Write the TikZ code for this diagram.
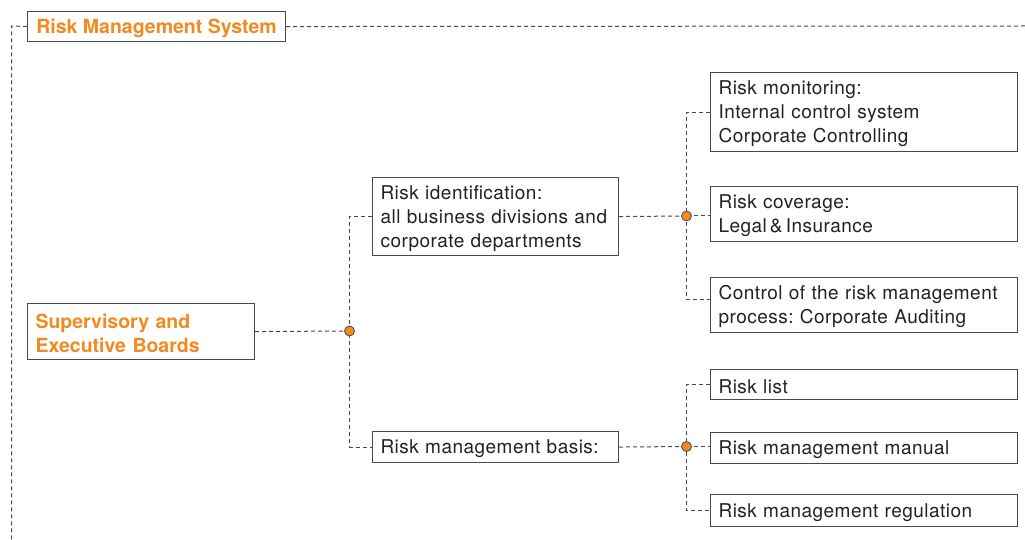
\documentclass[tikz,border=0pt]{standalone}
\usepackage{fontspec}
\setmainfont{TeX Gyre Heros}
\newfontfamily\regfont[LetterSpace=2.5]{TeX Gyre Heros}
\definecolor{rorange}{HTML}{F18A21}
\definecolor{rline}{HTML}{4A4A4A}
\definecolor{rtext}{HTML}{222222}
\frenchspacing
\begin{document}
\begin{tikzpicture}[x=1pt,y=-1pt,
  box/.style={draw=rline, line width=1.1pt, anchor=north west, inner xsep=8pt, inner ysep=0pt,
    align=left, text=rtext, font=\regfont\fontsize{19}{24}\selectfont,
    execute at begin node={\rule{0pt}{17.8pt}}},
  obox/.style={box, text=rorange, font=\fontsize{19.5}{24}\selectfont\bfseries},
  dl/.style={draw=rline, dash pattern=on 4pt off 3pt, line width=1pt},
  dot/.style={circle, fill=rorange, draw=rline, line width=0.8pt, inner sep=0pt, minimum size=10pt}]
\useasboundingbox (0,0) rectangle (1025,540);
\fill[white] (0,0) rectangle (1025,540);
% boxes
\node[obox, inner xsep=0pt, minimum width=258, minimum height=30] (title) at (27,11) {Risk Management System};
\node[obox, text width=211, minimum height=56] (sup) at (27,303) {Supervisory and\\Executive Boards};
\node[box, text width=230, minimum height=78] (ident) at (372,177) {Risk identification:\\all business divisions and\\corporate departments};
\node[box, text width=230, minimum height=31] (basis) at (372,431) {Risk management basis:};
\node[box, text width=291, minimum height=79] (mon) at (710,72) {Risk monitoring:\\Internal control system\\Corporate Controlling};
\node[box, text width=291, minimum height=55] (cov) at (710,186) {Risk coverage:\\Legal\,\&\,Insurance};
\node[box, text width=291, minimum height=55] (ctrl) at (710,277) {Control of the risk management\\process: Corporate Auditing};
\node[box, text width=291, minimum height=30] (list) at (710,369) {Risk list};
\node[box, text width=291, minimum height=31] (man) at (710,432) {Risk management manual};
\node[box, text width=291, minimum height=32] (reg) at (710,494) {Risk management regulation};
% coordinates
\coordinate (tl) at (11.5,26);
\coordinate (bl) at (11.5,540);
\coordinate (tr) at (1025,26);
\coordinate (c1) at (349.5,331);
\coordinate (c2) at (686.5,216);
\coordinate (c3) at (686.5,446.5);
% connectors
\draw[dl] (title.west) -- (tl) -- (bl);
\draw[dl] (title.east) -- (tr);
\draw[dl] (sup.east) -- (c1);
\draw[dl] (ident.west) -| (c1) |- (basis.west);
\draw[dl] (ident.east) -- (c2);
\draw[dl] (mon.west) -| (c2) |- ([yshift=5.5pt]ctrl.west);
\draw[dl] (c2) -- (c2 -| cov.west);
\draw[dl] (basis.east) -- (c3);
\draw[dl] (list.west) -| (c3) |- (reg.west);
\draw[dl] (c3) -- (c3 -| man.west);
% dots
\node[dot] (d1) at (c1) {};
\node[dot] (d2) at (c2) {};
\node[dot] (d3) at (c3) {};
\end{tikzpicture}
\end{document}
